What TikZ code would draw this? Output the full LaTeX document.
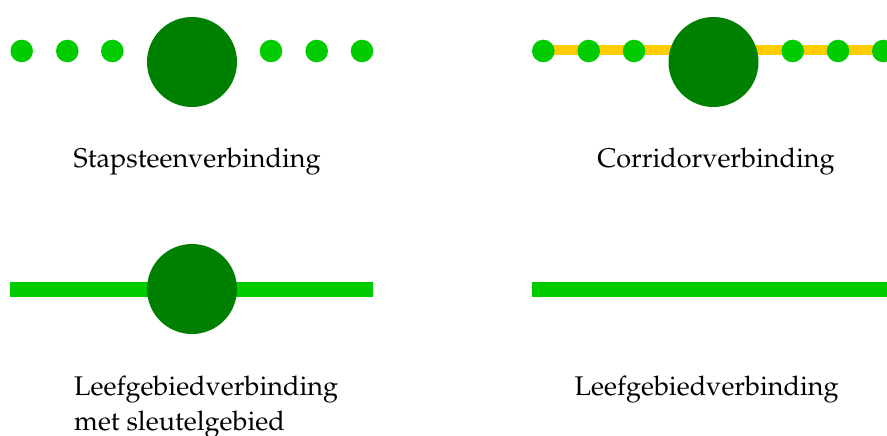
\documentclass[tikz,border=0pt]{standalone}
\usepackage[T1]{fontenc}
\usepackage{mathpazo}
\definecolor{lightgreen}{HTML}{00CC00}
\definecolor{darkgreen}{HTML}{008000}
\definecolor{corridor}{HTML}{FFCC00}
\tikzset{
  stone/.style={circle, fill=lightgreen, inner sep=0pt, minimum size=22.6pt},
  core/.style={circle, fill=darkgreen, inner sep=0pt, minimum size=90pt},
  habitat/.style={draw=lightgreen, line width=15pt},
  band/.style={draw=corridor, line width=10.7pt},
  caption/.style={font=\fontsize{27}{35}\selectfont, inner sep=0pt}
}
\begin{document}
\begin{tikzpicture}[x=1pt,y=-1pt]
\useasboundingbox (0,0) rectangle (887,436);

% stepping-stone connection
\foreach \n/\x in {a/21.7, b/67.3, c/112.3, d/271, e/316.7, f/362}
  \node[stone] (s\n) at (\x,51) {};
\node[core] (score) at (192,62) {};
\node[caption, anchor=base west] (tstep) at (73.5,167) {Stapsteenverbinding};

% corridor connection
\coordinate (cstart) at (543.3,50);
\coordinate (cend) at (892,50);
\draw[band] (cstart) -- (cend);
\foreach \n/\x in {a/543.3, b/588.7, c/634, d/792.7, e/838, f/883.3}
  \node[stone] (c\n) at (\x,51) {};
\node[core] (ccore) at (713.5,62) {};
\node[caption, anchor=base] (tcorr) at (716,167) {Corridorverbinding};

% habitat connection with key area
\coordinate (hstart) at (10,289);
\coordinate (hend) at (373,289);
\draw[habitat] (hstart) -- (hend);
\node[core] (hcore) at (192,289) {};
\node[caption, anchor=base west] (thab1) at (74,395) {Leefgebiedverbinding};
\node[caption, anchor=base west] (thab2) at (74,430) {met sleutelgebied};

% habitat connection
\coordinate (lstart) at (531.5,289);
\coordinate (lend) at (887,289);
\draw[habitat] (lstart) -- (lend);
\node[caption, anchor=base] (tleef) at (706.7,395) {Leefgebiedverbinding};
\end{tikzpicture}
\end{document}
